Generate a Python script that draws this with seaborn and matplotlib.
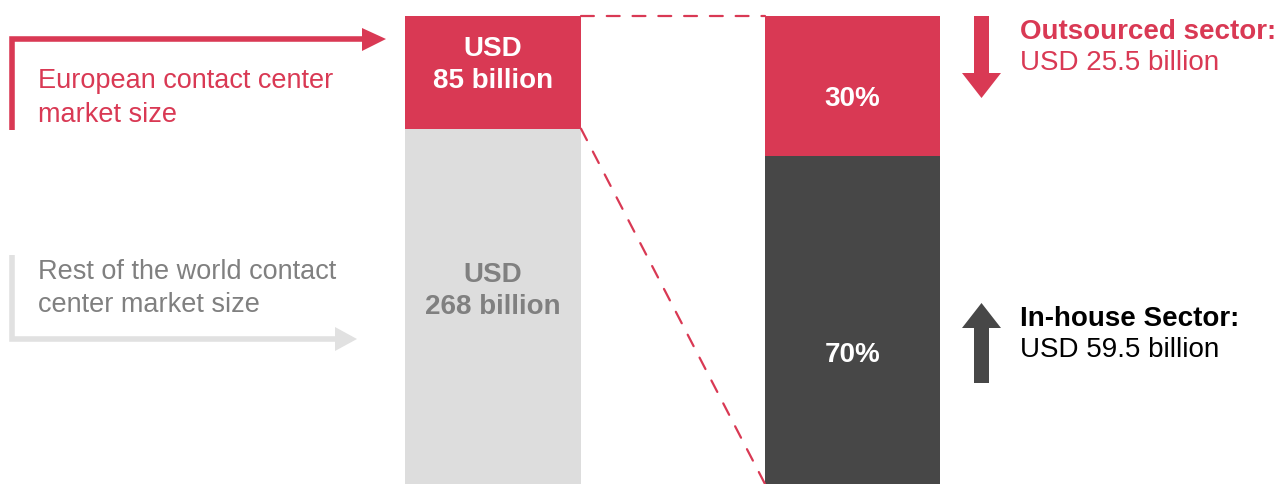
import matplotlib
matplotlib.use("Agg")
import matplotlib.pyplot as plt
import seaborn as sns
import pandas as pd
from matplotlib.patches import ConnectionPatch, Polygon

sns.set_theme(style="white")
plt.rcParams['font.family'] = ['Liberation Sans', 'DejaVu Sans']

# ---- data ----
market_segments = ["Rest of the world", "Europe"]
market_values = [268, 85]            # USD billion
market_labels = ["USD\n268 billion", "USD\n85 billion"]

europe_segments = ["In-house", "Outsourced"]
europe_shares = [70, 30]             # percent
europe_share_labels = ["70%", "30%"]
sector_titles = ["In-house Sector:", "Outsourced sector:"]
sector_values = ["USD 59.5 billion", "USD 25.5 billion"]

RED = "#D93954"
LIGHT = "#DDDDDD"
DARK = "#474747"
GREYTXT = "#808080"

W, H = 1281, 485
fig = plt.figure(figsize=(W / 100, H / 100), dpi=100)

def fig_rect(x0, y0, x1, y1):
    return [x0 / W, 1 - y1 / H, (x1 - x0) / W, (y1 - y0) / H]

# background axes in pixel coords for annotations
bg = fig.add_axes([0, 0, 1, 1])
bg.set_xlim(0, W)
bg.set_ylim(H, 0)
bg.axis("off")

# left stacked bar
axL = fig.add_axes(fig_rect(405, 17, 581, 485))
total_L = sum(market_values)
dfL = pd.DataFrame({"bar": ["m"], "total": [total_L], "low": [market_values[0]]})
sns.barplot(data=dfL, x="bar", y="total", color=RED, saturation=1, width=1, ax=axL, linewidth=0)
sns.barplot(data=dfL, x="bar", y="low", color=LIGHT, saturation=1, width=1, ax=axL, linewidth=0)
axL.set_xlim(-0.5, 0.5)
axL.set_ylim(0, total_L)
axL.axis("off")

# right stacked bar
axR = fig.add_axes(fig_rect(765, 17, 940, 485))
total_R = sum(europe_shares)
dfR = pd.DataFrame({"bar": ["e"], "total": [total_R], "low": [europe_shares[0]]})
sns.barplot(data=dfR, x="bar", y="total", color=RED, saturation=1, width=1, ax=axR, linewidth=0)
sns.barplot(data=dfR, x="bar", y="low", color=DARK, saturation=1, width=1, ax=axR, linewidth=0)
axR.set_xlim(-0.5, 0.5)
axR.set_ylim(0, total_R)
axR.axis("off")

FS = 20
bold = dict(fontsize=FS, fontweight="bold", ha="center", va="center", linespacing=1.3)
# labels in bars (axes-fraction positions)
axL.text(0.5, 0.898, market_labels[1], color="white", transform=axL.transAxes, **bold)
axL.text(0.5, 0.415, market_labels[0], color=GREYTXT, transform=axL.transAxes, **bold)
axR.text(0.5, 0.825, europe_share_labels[1], color="white", transform=axR.transAxes, **bold)
axR.text(0.5, 0.278, europe_share_labels[0], color="white", transform=axR.transAxes, **bold)

# dashed connectors from the data corners
for yL, yR in [(total_L, total_R), (market_values[0], 0)]:
    cp = ConnectionPatch(xyA=(0.5, yL), coordsA=axL.transData,
                         xyB=(-0.5, yR), coordsB=axR.transData,
                         color=RED, lw=1.6, linestyle=(0, (5.8, 5.8)))
    fig.add_artist(cp)

# left annotation arrows
bg.plot([12, 12, 365], [131, 40, 40], color=RED, lw=4, solid_capstyle="butt", solid_joinstyle="miter")
bg.add_patch(Polygon([[362, 29], [386, 40], [362, 52]], closed=True, color=RED, lw=0))
bg.plot([12, 12, 338], [256, 340, 340], color="#E1E1E1", lw=4, solid_capstyle="butt", solid_joinstyle="miter")
bg.add_patch(Polygon([[335, 328], [357, 340], [335, 352]], closed=True, color="#E1E1E1", lw=0))

reg = dict(fontsize=19.5, ha="left", va="center", linespacing=1.35)
bg.text(38, 98, "European contact center\nmarket size", color=RED, **reg)
bg.text(38, 289, "Rest of the world contact\ncenter market size", color=GREYTXT, **reg)

# right side arrows
bg.add_patch(Polygon([[974, 17], [989, 17], [989, 74], [1001, 74], [981.5, 99],
                      [962, 74], [974, 74]], closed=True, color=RED, lw=0))
bg.add_patch(Polygon([[974, 384], [989, 384], [989, 329], [1001, 329], [981.5, 304],
                      [962, 329], [974, 329]], closed=True, color=DARK, lw=0))

bg.text(1020, 32, sector_titles[1], color=RED, fontsize=FS, fontweight="bold", ha="left", va="center")
bg.text(1020, 63, sector_values[1], color=RED, fontsize=FS, ha="left", va="center")
bg.text(1020, 319, sector_titles[0], color="black", fontsize=FS, fontweight="bold", ha="left", va="center")
bg.text(1020, 350, sector_values[0], color="black", fontsize=FS, ha="left", va="center")

fig.savefig("out.png", dpi=100)
